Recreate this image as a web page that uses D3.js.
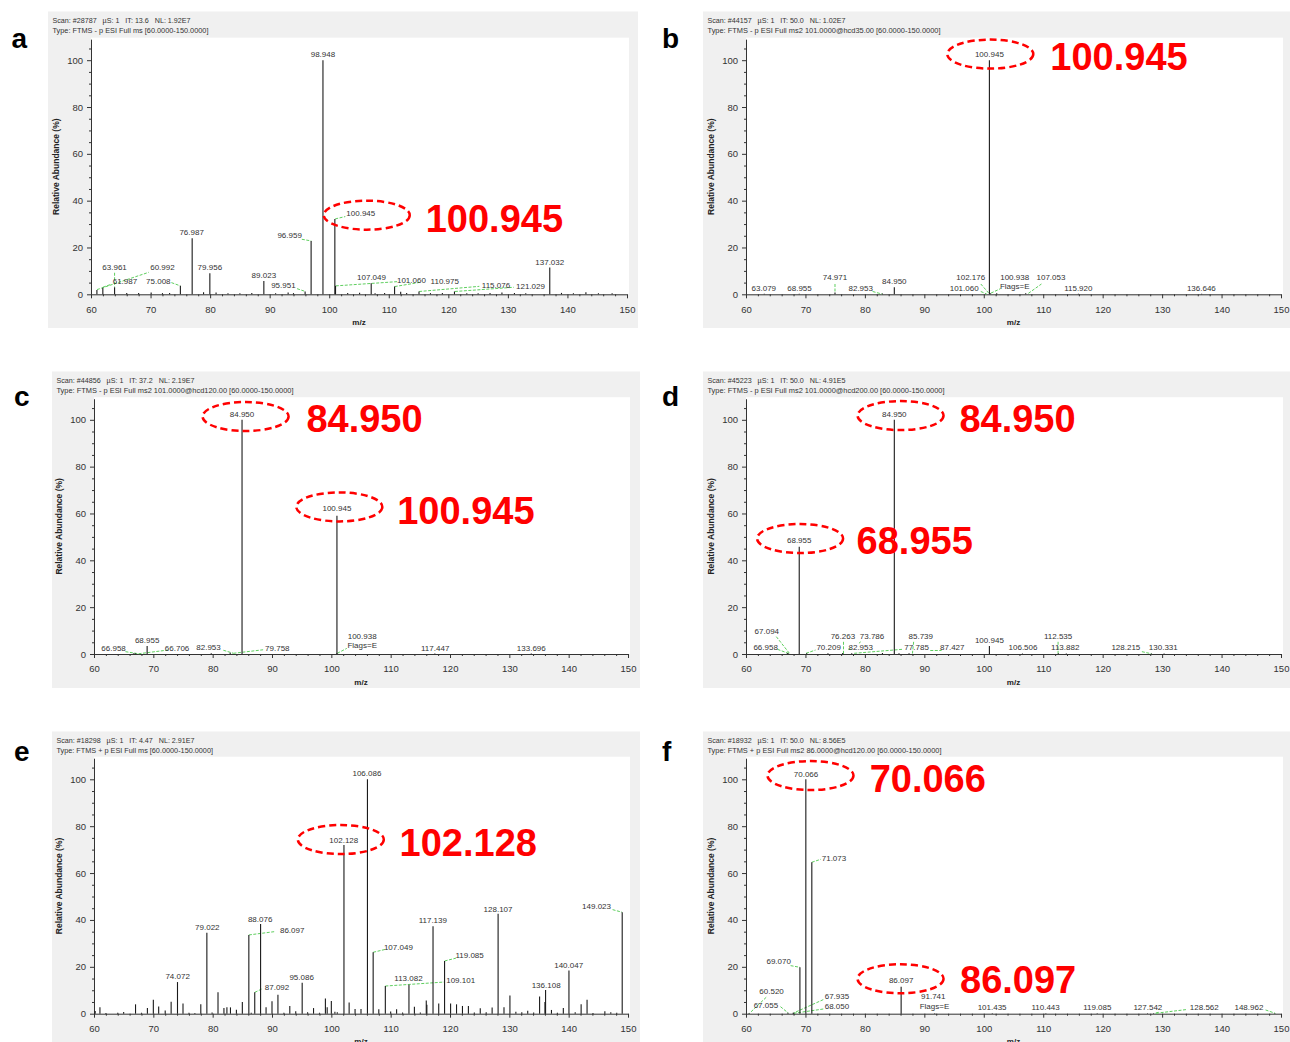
<!DOCTYPE html>
<html><head><meta charset="utf-8">
<script src="https://cdn.jsdelivr.net/npm/d3@7"></script>
<style>
body{margin:0;background:#fff}
svg{display:block}
text{font-family:"Liberation Sans",Arial,Helvetica,sans-serif}
</style>
</head><body>
<svg id="chart" width="1290" height="1042"></svg>
<script>
// ---------------- DATA ----------------
const xTickValues = [60,70,80,90,100,110,120,130,140,150];
const yTickValues = [0,20,40,60,80,100];
const panelLetters = ["a","b","c","d","e","f"];
const xAxisTitle = "m/z";
const yAxisTitle = "Relative Abundance (%)";

const headerA = ["Scan: #28787   µS: 1   IT: 13.6   NL: 1.92E7", "Type: FTMS - p ESI Full ms [60.0000-150.0000]"];
const headerB = ["Scan: #44157   µS: 1   IT: 50.0   NL: 1.02E7", "Type: FTMS - p ESI Full ms2 101.0000@hcd35.00 [60.0000-150.0000]"];
const headerC = ["Scan: #44856   µS: 1   IT: 37.2   NL: 2.19E7", "Type: FTMS - p ESI Full ms2 101.0000@hcd120.00 [60.0000-150.0000]"];
const headerD = ["Scan: #45223   µS: 1   IT: 50.0   NL: 4.91E5", "Type: FTMS - p ESI Full ms2 101.0000@hcd200.00 [60.0000-150.0000]"];
const headerE = ["Scan: #18298   µS: 1   IT: 4.47   NL: 2.91E7", "Type: FTMS + p ESI Full ms [60.0000-150.0000]"];
const headerF = ["Scan: #18932   µS: 1   IT: 50.0   NL: 8.56E5", "Type: FTMS + p ESI Full ms2 86.0000@hcd120.00 [60.0000-150.0000]"];

// peaks: [m/z, relative abundance]
const peaksA = [[60.992,1.8],[61.987,2.8],[63.961,3.0],[66,0.6],[68,0.6],[70.1,0.8],[72,0.5],[73.2,0.6],[75.008,3.6],[76.987,23.9],[78.9,0.9],[79.956,9.0],[81,0.8],[83,0.5],[85,0.5],[87,0.6],[89.023,5.7],[91,0.5],[93.1,0.8],[94,0.5],[95.951,1.2],[96.959,22.8],[98.948,100],[100.945,32.2],[101.06,3.6],[103.1,0.6],[105.1,0.7],[107.049,4.7],[107.7,0.5],[109.3,0.6],[110.975,3.3],[112,1.1],[113,0.6],[115.076,1.2],[117,0.5],[119,0.6],[121.029,1.2],[123.1,0.5],[125,0.5],[127,0.6],[129,0.8],[131.1,0.6],[133,0.5],[137.032,11.4],[139,0.6],[141,0.5],[143.1,0.9],[145.2,0.5],[147.5,0.4]];
const peaksB = [[63.079,0.2],[68.955,0.2],[74.971,0.8],[82.953,0.3],[84.95,3.0],[100.945,100],[101.06,0.6],[102.176,0.5],[107.053,0.5],[115.92,0.2],[136.646,0.2]];
const peaksC = [[66.706,0.3],[66.958,0.3],[68.955,3.4],[79.758,0.3],[82.953,0.5],[84.95,100],[100.938,0.3],[100.945,59],[117.447,0.2],[133.696,0.2]];
const peaksD = [[66.958,0.3],[67.094,0.3],[68.955,45.8],[70.209,0.3],[73.786,0.3],[76.263,0.4],[77.785,0.3],[82.953,0.4],[84.95,100],[85.739,0.3],[87.427,0.3],[100.945,3.4],[106.506,0.2],[112.535,0.3],[113.882,0.2],[128.215,0.2],[130.331,0.2]];
const peaksE = [[60.2,1.2],[61.0,2.7],[62.0,0.3],[64.0,0.4],[65.0,0.7],[67.0,4.0],[68.0,0.4],[69.0,2.4],[70.0,6.0],[70.9,3.1],[72.0,1.4],[73.0,5.1],[74.072,13.5],[75.0,4.3],[76.0,0.4],[77.0,0.3],[78.0,4.0],[79.022,34.5],[79.9,0.5],[80.9,9.1],[81.9,2.4],[82.4,2.7],[83.0,2.7],[84.0,1.7],[85.0,5.0],[86.097,33.6],[86.5,0.4],[87.092,9.1],[88.076,38.3],[89.0,2.8],[90.0,5.3],[91.0,8.1],[92.0,0.4],[93.0,3.3],[94.0,1.0],[95.086,13.2],[96.0,0.6],[97.0,2.4],[98.0,0.4],[99.0,6.5],[99.3,2.7],[100.0,5.4],[100.6,0.8],[101.0,0.6],[102.128,72],[103.0,4.8],[104.0,2.0],[105.0,2.0],[106.086,100],[107.049,26.2],[108.0,1.9],[109.101,11.8],[110.0,0.9],[111.0,1.9],[112.0,0.5],[113.082,12.4],[114.0,3.0],[115.0,0.5],[116.0,5.6],[116.1,3.8],[117.139,37.3],[118.1,4.4],[119.085,22.5],[120.1,4.4],[121.1,4.0],[122.1,3.3],[123.1,3.3],[124.1,0.5],[125.1,2.3],[126.1,0.6],[127.1,2.6],[128.107,42.6],[129.1,2.7],[130.1,7.8],[131.1,0.8],[132.1,0.6],[133.1,1.3],[134.1,0.5],[135.1,7.3],[136.0,5.0],[136.108,10.1],[137.1,1.6],[138.1,0.4],[139.1,2.4],[140.047,18.4],[141.1,0.6],[142.1,4.0],[143.1,6.0],[144.1,0.3],[146.1,1.0],[147.1,0.6],[148.1,0.4],[149.023,43.3]];
const peaksF = [[60.52,0.3],[67.055,0.4],[67.935,0.4],[68.05,0.4],[69.07,19.8],[70.066,100],[71.073,64.6],[86.097,11.5],[91.741,0.2],[101.435,0.2],[110.443,0.2],[119.085,0.2],[127.542,0.2],[128.562,0.2],[148.962,0.2]];

// peak labels: [text, m/z, relative abundance at text baseline]
const labelsA = [["98.948",98.948,101.2],["100.945",105.3,33.4],["96.959",93.35,23.9],["76.987",76.9,25.2],["79.956",79.956,10.3],["89.023",89.023,7.0],["137.032",137.032,12.6],["63.961",63.961,10.5],["61.987",65.7,4.5],["60.992",72.0,10.2],["75.008",71.3,4.6],["95.951",92.3,2.6],["107.049",107.1,6.2],["101.060",113.8,4.8],["110.975",119.4,4.5],["115.076",128.0,2.6],["121.029",133.8,2.4]];
const labelsB = [["100.945",100.945,101.2],["74.971",74.971,5.9],["84.950",84.95,4.5],["63.079",63.0,1.2],["68.955",69.0,1.2],["82.953",79.3,1.2],["102.176",97.8,5.9],["101.060",96.7,1.6],["100.938",105.2,6.3],["Flags=E",105.2,2.4],["107.053",111.3,5.9],["115.920",115.9,1.2],["136.646",136.6,1.2]];
const labelsC = [["84.950",84.95,101.2],["100.945",100.945,61.0],["68.955",68.955,4.8],["66.958",63.3,1.1],["66.706",74.0,1.1],["82.953",79.3,1.9],["79.758",90.9,1.1],["100.938",105.2,6.3],["Flags=E",105.2,2.4],["117.447",117.5,1.1],["133.696",133.7,1.1]];
const labelsD = [["84.950",84.95,101.2],["68.955",68.955,47.2],["100.945",100.945,4.8],["67.094",63.5,8.6],["66.958",63.3,1.9],["70.209",73.9,1.6],["76.263",76.3,6.2],["73.786",81.2,6.2],["82.953",79.3,1.9],["85.739",89.4,6.2],["77.785",88.7,1.6],["87.427",94.7,1.6],["106.506",106.6,1.6],["112.535",112.5,6.2],["113.882",113.7,1.6],["128.215",123.9,1.6],["130.331",130.2,1.6]];
const labelsE = [["106.086",106.0,101.2],["102.128",102.1,72.9],["79.022",79.1,35.5],["88.076",88.0,39.2],["86.097",93.4,34.5],["87.092",90.85,10.3],["74.072",74.1,14.6],["95.086",95.0,14.4],["107.049",111.3,27.1],["113.082",113.0,13.9],["109.101",121.8,13.0],["117.139",117.1,38.6],["119.085",123.3,23.6],["128.107",128.1,43.6],["136.108",136.2,11.0],["140.047",140.0,19.4],["149.023",144.7,44.5]];
const labelsF = [["70.066",70.1,101.1],["71.073",74.8,65.2],["69.070",65.5,21.0],["86.097",86.1,12.9],["60.520",64.3,8.6],["67.055",63.35,2.5],["67.935",75.3,6.1],["68.050",75.3,1.8],["91.741",91.5,6.1],["Flags=E",91.7,2.1],["101.435",101.4,1.5],["110.443",110.4,1.5],["119.085",119.1,1.5],["127.542",127.6,1.5],["128.562",137.1,1.5],["148.962",144.6,1.5]];

// label leader lines: [m/z1, rel1, m/z2, rel2]
const leadersA = [[101.0,32.2,102.7,33.2],[95.4,23.5,97.0,22.8],[63.961,9.2,63.961,3.2],[62.0,3.0,63.4,4.3],[61.0,2.0,69.7,9.4],[73.5,5.0,75.0,3.6],[94.6,2.4,96.0,1.2],[101.1,3.6,111.4,5.4],[111.0,3.3,115.2,5.1],[115.1,1.2,125.2,3.4],[121.1,1.2,131.0,3.0]];
const leadersB = [[74.971,4.4,74.971,0.8],[81.3,1.2,82.9,0.1],[99.5,4.4,100.8,0.6],[99.5,1.2,100.5,0.1],[101.2,0.5,102.8,2.4],[107.5,0.4,109.7,4.4]];
const leadersC = [[65.3,1.0,67.5,0.1],[67.5,0.1,72.5,1.7],[81.8,1.6,83.5,0.3],[83.5,0.3,88.5,1.8],[101.0,0.3,102.6,2.4]];
const leadersD = [[65.1,7.4,67.3,0.3],[65.3,2.0,67.1,0.3],[70.1,0.3,71.7,1.7],[76.4,5.2,76.4,0.0],[79.3,5.2,79.0,4.6],[77.2,2.0,77.8,2.0],[78.2,0.3,86.3,2.0],[88.2,5.2,88.0,0.2],[91.0,1.5,92.9,1.5],[112.5,5.2,112.5,0.2],[126.6,1.0,128.2,0.1]];
const leadersE = [[86.1,33.6,90.4,35.0],[87.1,9.1,88.4,10.7],[107.05,26.2,109.2,27.5],[109.1,11.8,119.0,13.5],[119.1,22.5,121.0,23.7],[147.4,44.4,149.0,43.3]];
const leadersF = [[71.07,64.6,72.6,65.9],[67.5,20.5,69.07,19.8],[63.4,7.0,60.6,0.2],[65.8,3.0,67.1,0.3],[73.0,6.0,68.0,0.3],[73.0,2.0,68.1,0.2],[128.9,0.2,129.6,0.8],[129.0,0.2,134.2,1.8],[147.4,1.6,149.0,0.2]];

// red annotations: circles [m/z, rel] centres, callouts [text, m/z left, rel baseline]
const circlesA = [[106.3,33.8]];
const calloutsA = [["100.945",116.2,26.8]];
const circlesB = [[101.1,102.6]];
const calloutsB = [["100.945",111.2,95.7]];
const circlesC = [[85.55,101.4],[101.35,62.8]];
const calloutsC = [["84.950",95.8,94.6],["100.945",111.1,55.6]];
const circlesD = [[86.0,101.8],[69.1,49.3]];
const calloutsD = [["84.950",95.9,94.9],["68.955",78.6,42.7]];
const circlesE = [[101.6,74.3]];
const calloutsE = [["102.128",111.5,67.3]];
const circlesF = [[70.85,101.6],[86.0,14.9]];
const calloutsF = [["70.066",80.8,94.7],["86.097",96.0,8.7]];

// ---------------- LAYOUT ----------------
const layout = [
  {bx:48, by:11.5, bw:590, bh:316.5, l:91, r:627, y0:294.3, y100:60.2, lx:11.5, ly:48},
  {bx:703, by:11.5, bw:587, bh:316.5, l:746, r:1281, y0:294.3, y100:60.2, lx:662, ly:48},
  {bx:52, by:371.5, bw:588, bh:316.5, l:94, r:628, y0:654, y100:419.8, lx:14, ly:406},
  {bx:703, by:371.5, bw:587, bh:316.5, l:746, r:1281, y0:654, y100:419.8, lx:662, ly:406},
  {bx:52, by:731.5, bw:588, bh:316.5, l:94, r:628, y0:1013.7, y100:779.3, lx:14, ly:761},
  {bx:703, by:731.5, bw:587, bh:316.5, l:746, r:1281, y0:1013.7, y100:779.3, lx:662, ly:761}
];
const headers = [headerA,headerB,headerC,headerD,headerE,headerF];
const peaks = [peaksA,peaksB,peaksC,peaksD,peaksE,peaksF];
const labels = [labelsA,labelsB,labelsC,labelsD,labelsE,labelsF];
const leaders = [leadersA,leadersB,leadersC,leadersD,leadersE,leadersF];
const circles = [circlesA,circlesB,circlesC,circlesD,circlesE,circlesF];
const callouts = [calloutsA,calloutsB,calloutsC,calloutsD,calloutsE,calloutsF];
const headerWidths = [[138,156],[138,233],[138,237],[138,237],[138,156.5],[138,234]];

const xMinor = d3.range(60,151,2).filter(v => v % 10 !== 0);
const yMinor = d3.range(0,106,5).filter(v => v % 20 !== 0);
const svg = d3.select("#chart");
const TOP = 109;

layout.forEach((P,i) => {
  const g = svg.append("g");
  const k = (P.y0 - P.y100) / 100;
  const x = d3.scaleLinear().domain([60,150]).range([P.l, P.r]);
  const y = d3.scaleLinear().domain([0,TOP]).range([P.y0, P.y0 - TOP*k]);

  g.append("rect").attr("x",P.bx).attr("y",P.by).attr("width",P.bw).attr("height",P.bh).attr("fill","#f0f0f0");
  g.append("rect").attr("x",P.l).attr("y",y(TOP)-1.5).attr("width",P.r-P.l+2).attr("height",P.y0-y(TOP)+1.5).attr("fill","#ffffff");

  // header lines
  headers[i].forEach((t,j) => {
    g.append("text").attr("x",P.bx+4.5).attr("y",P.by+11.5+j*9.5)
      .attr("font-size",7.2).attr("fill","#333").style("white-space","pre")
      .attr("textLength",headerWidths[i][j]).attr("lengthAdjust","spacingAndGlyphs")
      .text(t);
  });

  // axes
  const axColor = "#333";
  const gx = g.append("g").attr("transform",`translate(0,${P.y0})`)
    .call(d3.axisBottom(x).tickValues(xTickValues).tickSize(4).tickSizeOuter(0).tickPadding(7.5).tickFormat(d3.format("d")));
  g.append("g").attr("transform",`translate(0,${P.y0})`)
    .call(d3.axisBottom(x).tickValues(xMinor).tickSize(2).tickSizeOuter(0).tickFormat(""))
    .select(".domain").remove();
  const gy = g.append("g").attr("transform",`translate(${P.l},0)`)
    .call(d3.axisLeft(y).tickValues(yTickValues).tickSize(4).tickSizeOuter(0).tickPadding(4));
  g.append("g").attr("transform",`translate(${P.l},0)`)
    .call(d3.axisLeft(y).tickValues(yMinor).tickSize(2).tickSizeOuter(0).tickFormat(""))
    .select(".domain").remove();
  g.selectAll(".domain, .tick line").attr("stroke",axColor);
  [gx,gy].forEach(a => a.selectAll("text").attr("font-size",9.5).attr("fill","#333")
     .attr("font-family","'Liberation Sans',Arial,sans-serif"));

  // axis titles
  g.append("text").attr("x",(P.l+P.r)/2).attr("y",P.y0+30.5).attr("text-anchor","middle")
    .attr("font-size",8).attr("font-weight","bold").attr("fill","#222").text(xAxisTitle);
  const cy = (P.y0 + y(TOP))/2;
  g.append("text").attr("transform",`translate(${P.l-32.5},${cy}) rotate(-90)`).attr("text-anchor","middle")
    .attr("font-size",8.5).attr("font-weight","bold").attr("fill","#222").text(yAxisTitle);

  // leaders
  g.selectAll("line.leader").data(leaders[i]).join("line").attr("class","leader")
    .attr("x1",d=>x(d[0])).attr("y1",d=>y(d[1])).attr("x2",d=>x(d[2])).attr("y2",d=>y(d[3]))
    .attr("stroke","#5fcf5f").attr("stroke-width",1).attr("stroke-dasharray","3,1.5");

  // peaks
  g.selectAll("line.peak").data(peaks[i]).join("line").attr("class","peak")
    .attr("x1",d=>x(d[0])).attr("x2",d=>x(d[0])).attr("y1",y(0)).attr("y2",d=>y(d[1]))
    .attr("stroke","#1a1a1a").attr("stroke-width",1.1);

  // peak labels
  g.selectAll("text.plabel").data(labels[i]).join("text").attr("class","plabel")
    .attr("x",d=>x(d[1])).attr("y",d=>y(d[2])).attr("text-anchor","middle")
    .attr("font-size",8).attr("fill","#333").text(d=>d[0]);

  // red annotations
  g.selectAll("ellipse").data(circles[i]).join("ellipse")
    .attr("cx",d=>x(d[0])).attr("cy",d=>y(d[1])).attr("rx",43).attr("ry",14.5)
    .attr("fill","none").attr("stroke","#ff0000").attr("stroke-width",2.5).attr("stroke-dasharray","7,4");
  g.selectAll("text.callout").data(callouts[i]).join("text").attr("class","callout")
    .attr("x",d=>x(d[1])).attr("y",d=>y(d[2])).attr("font-size",38).attr("font-weight","bold")
    .attr("fill","#ff0000").text(d=>d[0]);

  // panel letter
  svg.append("text").attr("x",P.lx).attr("y",P.ly).attr("font-size",28).attr("font-weight","bold")
    .attr("fill","#000").text(panelLetters[i]);
});
</script>
</body></html>
